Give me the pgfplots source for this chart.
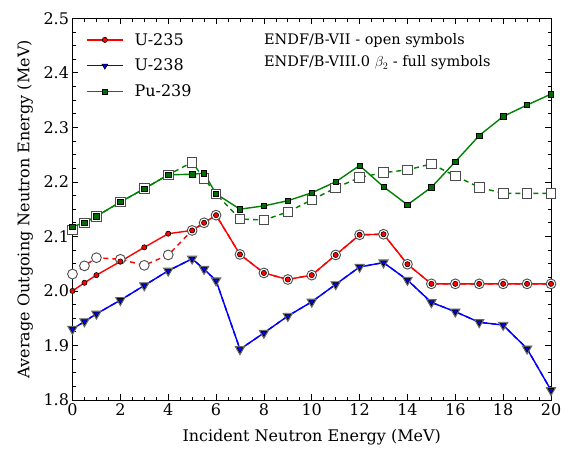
\documentclass[border=0pt]{standalone}
\usepackage{pgfplots}
\pgfplotsset{compat=1.18}
\usepackage{fontspec}
\setmainfont{DejaVu Serif}

\definecolor{cU5}{RGB}{255,0,0}
\definecolor{cU8}{RGB}{0,0,255}
\definecolor{cPu}{RGB}{0,128,0}

\newcommand{\tickfont}{\fontsize{16}{19}\selectfont}
\newcommand{\notefont}{\fontsize{14.5}{17}\selectfont}

\begin{document}
\begin{tikzpicture}
% fixed canvas
\path (-72.5pt,-48pt) rectangle (496.5pt,400pt);
\begin{axis}[
  scale only axis, width=478.5pt, height=381.7pt,
  at={(0pt,0pt)}, anchor=south west,
  xmin=0, xmax=20, ymin=1.8, ymax=2.5,
  xtick={0,2,4,6,8,10,12,14,16,18,20},
  ytick={1.8,1.9,2.0,2.1,2.2,2.3,2.4,2.5},
  minor x tick num=3, minor y tick num=3,
  tick align=inside, major tick length=6pt, minor tick length=3.5pt,
  tick style={black, line width=0.7pt},
  axis line style={line width=0.9pt},
  ticklabel style={font=\tickfont},
  /pgf/number format/assume math mode=true,
  yticklabel style={/pgf/number format/fixed, /pgf/number format/precision=1, /pgf/number format/fixed zerofill},
  label style={font=\tickfont},
  xlabel={Incident Neutron Energy (MeV)},
  ylabel={Average Outgoing Neutron Energy (MeV)},
  xlabel style={at={(axis description cs:0.5,-0.097)}, anchor=center},
  ylabel style={at={(axis description cs:-0.0993,0.5)}, anchor=center},
  legend cell align=left,
  legend style={at={(axis description cs:0.024,0.972)}, anchor=north west, draw=none, fill=none,
    font=\tickfont, row sep=8.5pt, inner sep=2pt,
    /tikz/every odd column/.append style={column sep=9pt}},
  legend image code/.code={\draw[mark repeat=2,mark phase=2,#1,line width=1.4pt] plot coordinates {(0pt,0pt) (18pt,0pt) (36pt,0pt)};},
  openmk/.style={mark options={solid, fill=white, draw=black!70, line width=0.9pt}},
  fullmk/.style={mark options={solid, fill=#1, draw=black, line width=0.6pt}},
]

% ENDF/B-VII: open symbols, dashed
\addplot[cU8, line width=1.4pt, dash pattern=on 5pt off 4pt, mark=triangle*, mark size=5.5pt,
  mark options={solid, rotate=180, fill=black!45, draw=black!60, line width=0.8pt}, forget plot] coordinates {
 (0,1.930) (0.5,1.944) (1,1.958) (2,1.983) (3,2.010) (4,2.037) (5,2.059) (5.5,2.040) (6,2.019)
 (7,1.893) (8,1.923) (9,1.954) (10,1.980) (11,2.012) (12,2.044) (13,2.052) (14,2.020)
 (15,1.979) (16,1.962) (17,1.9425) (18,1.9375) (19,1.894) (20,1.818)};
\addplot[cU5, line width=1.4pt, dash pattern=on 5pt off 4pt, mark=*, mark size=4.9pt, openmk, forget plot] coordinates {
 (0,2.031) (0.5,2.046) (1,2.061) (2,2.058) (3,2.047) (4,2.066) (5,2.111) (5.5,2.125) (6,2.139)
 (7,2.067) (8,2.033) (9,2.021) (10,2.029) (11,2.066) (12,2.103) (13,2.104) (14,2.049)
 (15,2.013) (16,2.013) (17,2.013) (18,2.013) (19,2.013) (20,2.013)};
\addplot[cPu, line width=1.4pt, dash pattern=on 5pt off 4pt, mark=square*, mark size=4.8pt, openmk, forget plot] coordinates {
 (0,2.112) (0.5,2.125) (1,2.137) (2,2.163) (3,2.1875) (4,2.213) (5,2.236) (5.5,2.206) (6,2.178)
 (7,2.132) (8,2.130) (9,2.145) (10,2.167) (11,2.189) (12,2.208) (13,2.217) (14,2.222)
 (15,2.233) (16,2.211) (17,2.190) (18,2.179) (19,2.179) (20,2.179)};

% ENDF/B-VIII.0 beta_2: full symbols, solid
\addplot[cU5, line width=1.4pt, mark=*, mark size=2.6pt, fullmk=cU5] coordinates {
 (0,2.000) (0.5,2.015) (1,2.029) (2,2.054) (3,2.080) (4,2.105) (5,2.111) (5.5,2.125) (6,2.139)
 (7,2.067) (8,2.033) (9,2.021) (10,2.029) (11,2.066) (12,2.103) (13,2.104) (14,2.049)
 (15,2.013) (16,2.013) (17,2.013) (18,2.013) (19,2.013) (20,2.013)};
\addlegendentry{U-235}
\addplot[cU8, line width=1.4pt, mark=triangle*, mark size=3.4pt,
  mark options={solid, rotate=180, fill=cU8, draw=black, line width=0.6pt}] coordinates {
 (0,1.930) (0.5,1.944) (1,1.958) (2,1.983) (3,2.010) (4,2.037) (5,2.059) (5.5,2.040) (6,2.019)
 (7,1.893) (8,1.923) (9,1.954) (10,1.980) (11,2.012) (12,2.044) (13,2.052) (14,2.020)
 (15,1.979) (16,1.962) (17,1.9425) (18,1.9375) (19,1.894) (20,1.818)};
\addlegendentry{U-238}
\addplot[cPu, line width=1.4pt, mark=square*, mark size=2.7pt, fullmk=cPu!85!black] coordinates {
 (0,2.118) (0.5,2.125) (1,2.137) (2,2.163) (3,2.1875) (4,2.213) (5,2.214) (5.5,2.216) (6,2.178)
 (7,2.150) (8,2.156) (9,2.1655) (10,2.180) (11,2.200) (12,2.230) (13,2.191) (14,2.158)
 (15,2.190) (16,2.237) (17,2.285) (18,2.320) (19,2.341) (20,2.361)};
\addlegendentry{Pu-239}

\node[anchor=west, font=\notefont, inner sep=0pt] at (axis cs:8.0,2.460) {ENDF/B-VII - open symbols};
\node[anchor=west, font=\notefont, inner sep=0pt] at (axis cs:8.0,2.418) {ENDF/B-VIII.0 $\beta_2$ - full symbols};
\end{axis}
\end{tikzpicture}
\end{document}
